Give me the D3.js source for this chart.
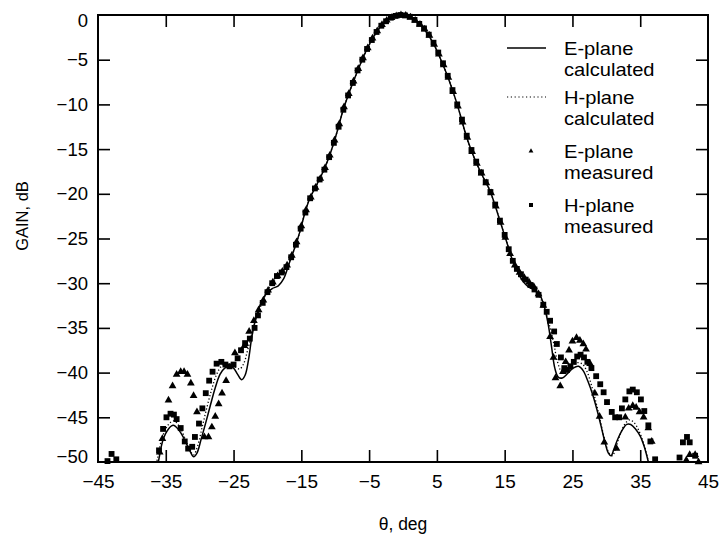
<!DOCTYPE html>
<html>
<head>
<meta charset="utf-8">
<script src="https://cdn.jsdelivr.net/npm/d3@7"></script>
<style>
  body { margin: 0; background: #fff; }
  text { font-family: Arial, "Liberation Sans", Helvetica, sans-serif; fill: #000; }
</style>
</head>
<body>
<script>
// chart size
const width = 722;
const height = 536;

const margin = { top: 15, right: 14, bottom: 74, left: 98 };

// axis ticks
const xTicks = [-45, -35, -25, -15, -5, 5, 15, 25, 35, 45];
const yTicks = [0, -5, -10, -15, -20, -25, -30, -35, -40, -45, -50];

// calculated patterns [theta, gain]
const eCalc = [
    [-36.4, -51], [-36.1, -50], [-35.4, -47.5], [-34.6, -46.3], [-33.9, -45.9], [-33.1, -46.4],
    [-32.3, -47.4], [-31.6, -48.5], [-30.9, -49.4], [-30.4, -49.0], [-29.8, -47.5], [-29.1, -45.6],
    [-28.4, -43.6], [-27.7, -41.7], [-27.0, -40.2], [-26.3, -39.5], [-25.6, -39.3], [-25.0, -39.5],
    [-24.4, -40.2], [-23.8, -40.8], [-23.3, -40.3], [-22.8, -38.6], [-22.3, -36.0], [-21.7, -33.9],
    [-21.0, -32.3], [-20.2, -31.2], [-19.3, -30.6], [-18.4, -30.3], [-17.6, -29.5], [-16.8, -27.8],
    [-16.0, -26.1], [-15.2, -24.2], [-14.5, -22.2], [-13.8, -20.6], [-12.8, -19.1], [-11.6, -17.2],
    [-10.6, -15.2], [-9.7, -13.0], [-8.9, -10.8], [-8.1, -9.0], [-7.2, -7.2], [-6.3, -5.5],
    [-5.3, -3.8], [-4.3, -2.4], [-3.3, -1.3], [-2.3, -0.6], [-1.3, -0.15], [-0.3, 0],
    [0.7, -0.15], [1.7, -0.55], [2.7, -1.2], [3.7, -2.2], [4.7, -3.5], [5.7, -5.2],
    [6.7, -7.1], [7.7, -9.3], [8.5, -11.3], [9.2, -13.2], [10.0, -15.0], [10.8, -16.5],
    [11.8, -18.1], [12.8, -19.6], [13.8, -21.8], [14.5, -23.5], [15.3, -25.4], [16.1, -27.3],
    [16.9, -28.7], [17.7, -29.8], [18.5, -30.4], [19.3, -30.7], [20.1, -31.2], [20.8, -32.5],
    [21.4, -34.5], [21.9, -37.0], [22.4, -39.5], [22.9, -40.5], [23.5, -40.6], [24.3, -40.1],
    [25.1, -39.5], [25.9, -39.3], [26.6, -39.8], [27.3, -41.0], [28.0, -42.5], [28.6, -44.1],
    [29.2, -45.9], [29.8, -47.8], [30.3, -49.0], [30.7, -49.3], [31.1, -48.6], [31.6, -47.6],
    [32.3, -46.5], [33.0, -45.8], [33.6, -45.8], [34.3, -46.3], [35.0, -47.1], [35.6, -48.3],
    [36.2, -50], [36.5, -51]
];

const hCalc = [
    [-36.6, -51], [-36.2, -49.5], [-35.5, -47.2], [-34.6, -45.8], [-33.8, -45.4], [-33.0, -46.0],
    [-32.2, -47.3], [-31.5, -48.6], [-30.9, -49.2], [-30.3, -48.2], [-29.6, -46.0], [-28.9, -43.8],
    [-28.2, -41.8], [-27.5, -40.2], [-26.8, -39.3], [-26.1, -39.0], [-25.4, -39.1], [-24.7, -39.4],
    [-24.1, -39.6], [-23.5, -39.0], [-22.9, -37.4], [-22.3, -35.6], [-21.6, -33.8], [-20.9, -32.4],
    [-20.1, -31.0], [-19.3, -29.9], [-18.5, -29.1], [-17.7, -28.6], [-16.8, -27.6],
    [-16.0, -26.1], [-15.2, -24.2], [-14.5, -22.2], [-13.8, -20.6], [-12.8, -19.1], [-11.6, -17.2],
    [-10.6, -15.2], [-9.7, -13.0], [-8.9, -10.8], [-8.1, -9.0], [-7.2, -7.2], [-6.3, -5.5],
    [-5.3, -3.8], [-4.3, -2.4], [-3.3, -1.3], [-2.3, -0.6], [-1.3, -0.15], [-0.3, 0],
    [0.7, -0.15], [1.7, -0.55], [2.7, -1.2], [3.7, -2.2], [4.7, -3.5], [5.7, -5.2],
    [6.7, -7.1], [7.7, -9.3], [8.5, -11.3], [9.2, -13.2], [10.0, -15.0], [10.8, -16.5],
    [11.8, -18.1], [12.8, -19.6], [13.8, -21.8], [14.5, -23.5], [15.3, -25.4], [16.1, -27.3],
    [16.9, -28.5], [17.7, -29.2], [18.5, -29.9], [19.3, -30.6], [20.1, -31.4], [20.8, -32.7],
    [21.5, -34.4], [22.2, -36.6], [22.8, -38.8], [23.4, -39.9], [24.1, -40.0], [24.9, -39.4],
    [25.7, -38.9], [26.4, -39.0], [27.1, -39.8], [27.8, -41.4], [28.5, -43.4], [29.1, -45.4],
    [29.8, -47.6], [30.4, -49.0], [30.9, -49.3], [31.4, -48.4], [32.0, -47.0], [32.7, -45.8],
    [33.4, -45.3], [34.1, -45.6], [34.8, -46.5], [35.5, -47.9], [36.1, -49.6], [36.5, -51]
];

// measured patterns [theta, gain]
const eMeas = [
    [-35.9, -48.9], [-35.5, -47.4], [-34.6, -43.1], [-34.0, -41.5], [-33.4, -40.2], [-32.8, -39.9],
    [-32.3, -39.9], [-31.8, -40.2], [-31.3, -41.2], [-30.9, -42.6], [-30.4, -44.4], [-29.3, -47.2],
    [-28.7, -47.2], [-28.2, -46.1], [-27.7, -44.9], [-27.2, -43.5], [-26.7, -42.3], [-26.1, -40.9],
    [-24.8, -37.8], [-23.4, -37.0], [-22.7, -35.4], [-22.0, -34.2], [-21.3, -33.0], [-20.6, -31.9],
    [-19.9, -30.8], [-19.2, -29.9], [-18.5, -29.2], [-17.8, -28.7], [-17.1, -28.0], [-16.4, -26.9],
    [-15.7, -25.4], [-15.0, -23.6], [-14.3, -21.8], [-13.6, -20.4], [-12.9, -19.3], [-12.2, -18.3],
    [-11.5, -17.1], [-10.8, -15.7], [-10.1, -14.0], [-9.4, -12.2], [-8.7, -10.3], [-8.0, -8.8],
    [-7.3, -7.4], [-6.6, -6.0], [-5.9, -4.8], [-5.2, -3.7], [-4.5, -2.6], [-3.8, -1.8],
    [-3.1, -1.1], [-2.4, -0.6], [-1.7, -0.3], [-1.0, -0.1], [-0.3, 0], [0.4, -0.05],
    [1.1, -0.25], [1.8, -0.6], [2.5, -1.05], [3.2, -1.6], [3.9, -2.3], [4.6, -3.3],
    [5.3, -4.4], [6.0, -5.6], [6.7, -7.0], [7.4, -8.6], [8.1, -10.2], [8.8, -12.0],
    [9.5, -13.7], [10.2, -15.3], [10.9, -16.6], [11.6, -17.7], [12.3, -18.8], [13.0, -19.9],
    [13.7, -21.4], [14.4, -23.2], [15.1, -24.9], [15.8, -26.7], [16.5, -28.0], [17.2, -28.8],
    [17.9, -29.4], [18.6, -29.9], [19.3, -30.4], [20.0, -31.2], [20.7, -32.5], [21.7, -36.0],
    [22.2, -38.3], [22.5, -40.6], [23.2, -41.5], [23.6, -39.9], [24.0, -38.8], [24.5, -37.5],
    [25.0, -36.5], [25.6, -36.1], [26.1, -36.4], [26.6, -36.8], [27.0, -37.4], [27.6, -39.0],
    [28.3, -42.3], [29.0, -44.9], [29.7, -47.8], [31.5, -48.5], [32.8, -45.0], [33.3, -44.0],
    [33.9, -43.7], [34.4, -43.9], [34.9, -44.4], [35.5, -45.0], [36.2, -46.2], [36.7, -47.7],
    [41.8, -49.8], [42.3, -49.2], [43.1, -49.2], [43.6, -50.0]
];

const hMeas = [
    [-43.6, -49.9], [-43.0, -49.1], [-42.3, -49.7], [-36.0, -48.7], [-35.4, -46.3], [-34.9, -45.0],
    [-34.3, -44.6], [-33.8, -44.7], [-33.4, -45.2], [-32.8, -46.2], [-32.2, -47.7], [-31.7, -48.5],
    [-31.1, -48.3], [-30.7, -47.2], [-30.1, -45.7], [-29.6, -44.0], [-29.1, -42.3], [-28.6, -40.9],
    [-28.1, -39.9], [-27.5, -39.0], [-26.8, -38.8], [-26.2, -39.1], [-25.6, -39.3], [-25.0, -39.1],
    [-24.4, -38.4], [-23.9, -37.5], [-23.3, -36.7], [-22.6, -36.2], [-21.9, -35.0], [-21.4, -33.6],
    [-20.7, -32.2], [-20.0, -31.0], [-19.3, -30.0], [-18.6, -29.2], [-17.9, -28.8], [-17.2, -28.2],
    [-16.5, -27.1], [-15.8, -25.7], [-15.1, -23.9], [-14.4, -22.1], [-13.7, -20.5], [-13.0, -19.4],
    [-12.3, -18.4], [-11.6, -17.3], [-10.9, -15.9], [-10.2, -14.3], [-9.5, -12.5], [-8.8, -10.6],
    [-8.1, -9.0], [-7.4, -7.6], [-6.7, -6.2], [-6.0, -5.0], [-5.3, -3.8], [-4.6, -2.8],
    [-3.9, -1.9], [-3.2, -1.2], [-2.5, -0.7], [-1.8, -0.3], [-1.1, -0.1], [-0.4, 0],
    [0.3, -0.05], [1.0, -0.2], [1.7, -0.55], [2.4, -1.0], [3.1, -1.5], [3.8, -2.2],
    [4.5, -3.1], [5.2, -4.2], [5.9, -5.4], [6.6, -6.8], [7.3, -8.4], [8.0, -10.0],
    [8.7, -11.7], [9.4, -13.5], [10.1, -15.1], [10.8, -16.4], [11.5, -17.6], [12.2, -18.7],
    [12.9, -19.8], [13.6, -21.2], [14.3, -23.0], [15.0, -24.6], [15.6, -26.2], [16.2, -27.5],
    [16.8, -28.4], [17.4, -29.0], [18.1, -29.6], [18.8, -30.2], [19.4, -30.7], [20.0, -31.3],
    [20.7, -32.4], [21.2, -33.2], [21.7, -34.2], [22.3, -35.4], [22.7, -36.8], [23.3, -38.3],
    [23.8, -39.5], [24.2, -39.7], [24.7, -39.3], [25.2, -38.8], [25.7, -38.2], [26.2, -38.0],
    [26.7, -38.3], [27.2, -38.8], [27.8, -39.5], [28.5, -40.4], [29.1, -41.3], [29.6, -42.2],
    [30.1, -43.3], [30.8, -44.4], [31.3, -45.0], [31.9, -45.0], [32.3, -44.0], [32.8, -43.0],
    [33.4, -42.1], [33.9, -41.9], [34.5, -42.2], [35.1, -43.0], [35.6, -44.3], [36.2, -45.9],
    [36.5, -47.7], [37.2, -49.7], [40.8, -49.5], [41.3, -47.8], [41.9, -47.2], [42.3, -47.8],
    [43.1, -49.3]
];

const legendItems = [
    { label: ["E-plane", "calculated"], kind: "solid" },
    { label: ["H-plane", "calculated"], kind: "dotted" },
    { label: ["E-plane", "measured"], kind: "triangle" },
    { label: ["H-plane", "measured"], kind: "square" }
];

let svg = d3.select("body")
    .append("svg")
    .attr("width", width)
    .attr("height", height);

const innerW = width - margin.left - margin.right;
const innerH = height - margin.top - margin.bottom;

let g = svg.append("g")
    .attr("transform", "translate(" + margin.left + "," + margin.top + ")");

let x = d3.scaleLinear().domain([-45, 45]).range([0, innerW]);
let y = d3.scaleLinear().domain([-50, 0]).range([innerH, 0]);

// clip the calculated curves to the plot box
g.append("clipPath").attr("id", "plot-clip")
    .append("rect").attr("width", innerW).attr("height", innerH);

// axes: inward ticks, labels at every 10 deg / 5 dB
let xAxis = g.append("g")
    .attr("transform", "translate(0," + innerH + ")")
    .call(d3.axisBottom(x).tickValues(xTicks).tickSizeInner(-12).tickSizeOuter(0).tickPadding(13));
let xTop = g.append("g")
    .call(d3.axisTop(x).tickValues(xTicks).tickSizeInner(-12).tickSizeOuter(0).tickFormat(""));
let yAxis = g.append("g")
    .call(d3.axisLeft(y).tickValues(yTicks).tickSizeInner(-12).tickSizeOuter(0).tickPadding(10));
let yRight = g.append("g")
    .attr("transform", "translate(" + innerW + ",0)")
    .call(d3.axisRight(y).tickValues(yTicks).tickSizeInner(-12).tickSizeOuter(0).tickFormat(""));

[xAxis, xTop, yAxis, yRight].forEach(function(a) {
    a.select(".domain").remove();
    a.selectAll(".tick line").attr("stroke", "#000").attr("stroke-width", 1.6);
    a.selectAll(".tick text").style("font-size", "18.5px").attr("fill", "#000");
});
xAxis.selectAll(".tick text").style("font-size", "19px");
// no tick marks on the frame corners
xAxis.selectAll(".tick").filter(function(d) { return d === -45 || d === 45; }).select("line").remove();
xTop.selectAll(".tick").filter(function(d) { return d === -45 || d === 45; }).select("line").remove();
yAxis.selectAll(".tick").filter(function(d) { return d === 0 || d === -50; }).select("line").remove();
yRight.selectAll(".tick").filter(function(d) { return d === 0 || d === -50; }).select("line").remove();
yAxis.selectAll(".tick text")
    .attr("dy", function(d) { return d === 0 ? "0.6em" : d === -50 ? "0em" : "0.32em"; });

// frame
g.append("rect")
    .attr("width", innerW)
    .attr("height", innerH)
    .attr("fill", "none")
    .attr("stroke", "#000")
    .attr("stroke-width", 2);

let line = d3.line()
    .x(function(d) { return x(d[0]); })
    .y(function(d) { return y(d[1]); })
    .curve(d3.curveCatmullRom);

let curves = g.append("g").attr("clip-path", "url(#plot-clip)");

curves.append("path")
    .datum(hCalc)
    .attr("d", line)
    .attr("fill", "none")
    .attr("stroke", "#000")
    .attr("stroke-width", 1.3)
    .attr("stroke-dasharray", "1.2,2.2");

curves.append("path")
    .datum(eCalc)
    .attr("d", line)
    .attr("fill", "none")
    .attr("stroke", "#000")
    .attr("stroke-width", 1.5);

let triangle = d3.symbol().type(d3.symbolTriangle).size(26);
let square = d3.symbol().type(d3.symbolSquare).size(34);

g.append("g").selectAll("path")
    .data(hMeas)
    .enter()
    .append("path")
    .attr("d", square)
    .attr("transform", function(d) { return "translate(" + x(d[0]) + "," + y(d[1]) + ")"; })
    .attr("fill", "#000");

g.append("g").selectAll("path")
    .data(eMeas)
    .enter()
    .append("path")
    .attr("d", triangle)
    .attr("transform", function(d) { return "translate(" + x(d[0]) + "," + y(d[1]) + ")"; })
    .attr("fill", "#000");

// legend
let legend = svg.append("g").attr("transform", "translate(507,48)");
let rowY = [0, 49, 103, 157];

legendItems.forEach(function(item, i) {
    let row = legend.append("g").attr("transform", "translate(0," + rowY[i] + ")");
    if (item.kind === "solid" || item.kind === "dotted") {
        row.append("line")
            .attr("x1", 0).attr("x2", 39)
            .attr("stroke", "#000")
            .attr("stroke-width", item.kind === "solid" ? 1.5 : 1.2)
            .attr("stroke-dasharray", item.kind === "dotted" ? "1.2,2.6" : null);
    } else {
        row.append("path")
            .attr("d", item.kind === "triangle" ? d3.symbol().type(d3.symbolTriangle).size(10)() : d3.symbol().type(d3.symbolSquare).size(16)())
            .attr("transform", "translate(24,0)")
            .attr("fill", "#000");
    }
    item.label.forEach(function(t, j) {
        row.append("text")
            .attr("transform", "translate(57," + (7 + j * 21) + ") scale(1.15,1)")
            .style("font-size", "17.5px")
            .text(t);
    });
});

// axis titles
svg.append("text")
    .attr("x", margin.left + innerW / 2)
    .attr("y", 530)
    .attr("text-anchor", "middle")
    .style("font-size", "17.5px")
    .text("θ, deg");

svg.append("text")
    .attr("transform", "translate(28," + 216 + ") rotate(-90)")
    .attr("text-anchor", "middle")
    .style("font-size", "16.5px")
    .text("GAIN, dB");
</script>
</body>
</html>
